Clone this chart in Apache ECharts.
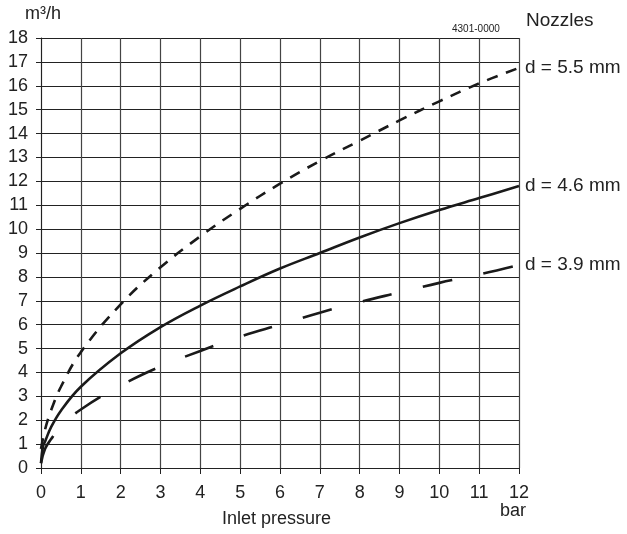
<!DOCTYPE html>
<html>
<head>
<meta charset="utf-8">
<script src="https://cdn.jsdelivr.net/npm/echarts@6/dist/echarts.min.js"></script>
<style>
  html, body { margin: 0; padding: 0; background: #fff; }
  #chart { width: 627px; height: 534px; }
</style>
</head>
<body>
<div id="chart"></div>
<script>
// values (pressure in bar, flow in m³/h)
var xTicks = [0, 1, 2, 3, 4, 5, 6, 7, 8, 9, 10, 11, 12];
var yTicks = [0, 1, 2, 3, 4, 5, 6, 7, 8, 9, 10, 11, 12, 13, 14, 15, 16, 17, 18];

var nozzle55 = [[0, 0.8], [0.1, 1.6], [0.25, 2.4], [0.5, 3.4], [1, 4.85], [2, 6.85], [3, 8.4], [4, 9.7],
  [5, 10.85], [6, 11.9], [7, 12.85], [8, 13.7], [9, 14.55], [10, 15.35], [11, 16.1], [12, 16.75]];
var nozzle46 = [[0, 0.2], [0.05, 0.9], [0.1, 1.1], [0.25, 1.7], [0.5, 2.4], [1, 3.4], [2, 4.8], [3, 5.9],
  [4, 6.8], [5, 7.6], [6, 8.35], [7, 9.0], [8, 9.65], [9, 10.25], [10, 10.8], [11, 11.3], [12, 11.8]];
var nozzle39 = [[0, 0.2], [0.1, 0.8], [0.25, 1.2], [0.5, 1.75], [1, 2.45], [2, 3.45], [3, 4.25], [4, 4.9],
  [5, 5.5], [6, 6.0], [7, 6.5], [8, 6.95], [9, 7.35], [10, 7.75], [11, 8.1], [12, 8.5]];

var FONT = "'Liberation Sans', Arial, sans-serif";
var chart = echarts.init(document.getElementById("chart"));

function curve(name, data, dash) {
  return {
    name: name,
    type: "line",
    data: data,
    smooth: 0.4,
    showSymbol: false,
    silent: true,
    lineStyle: { color: "#1a1a1a", width: 2.6, type: dash },
    endLabel: {
      show: true,
      formatter: name,
      color: "#222",
      fontFamily: FONT,
      fontSize: 19,
      distance: 6
    }
  };
}

var option = {
  animation: false,
  backgroundColor: "#fff",
  grid: { left: 41, right: 108, top: 38, bottom: 66 },
  graphic: [
    { type: "text", left: 25, top: 5, style: { text: "m³/h", font: "18px " + FONT, fill: "#222" } },
    { type: "text", left: 452, top: 24, style: { text: "4301-0000", font: "10px " + FONT, fill: "#222" } },
    { type: "text", left: 526, top: 11, style: { text: "Nozzles", font: "19px " + FONT, fill: "#222" } },
    { type: "text", left: 222, top: 510, style: { text: "Inlet pressure", font: "18px " + FONT, fill: "#222" } },
    { type: "text", left: 500, top: 502, style: { text: "bar", font: "18px " + FONT, fill: "#222" } }
  ],
  xAxis: {
    type: "value",
    min: 0,
    max: 12,
    interval: 1,
    axisLine: { show: true, lineStyle: { color: "#222", width: 1 } },
    axisTick: { show: true, length: 6, lineStyle: { color: "#222" } },
    axisLabel: { color: "#222", fontFamily: FONT, fontSize: 18, margin: 16 },
    splitLine: { show: true, lineStyle: { color: "#444", width: 1.2 } }
  },
  yAxis: {
    type: "value",
    min: 0,
    max: 18,
    interval: 1,
    axisLine: { show: true, lineStyle: { color: "#222", width: 1 } },
    axisTick: { show: true, length: 5, lineStyle: { color: "#222" } },
    axisLabel: { color: "#222", fontFamily: FONT, fontSize: 18, margin: 13 },
    splitLine: { show: true, lineStyle: { color: "#222", width: 1.2 } }
  },
  series: [
    curve("d = 5.5 mm", nozzle55, [11, 9]),
    curve("d = 4.6 mm", nozzle46, "solid"),
    curve("d = 3.9 mm", nozzle39, [30, 32])
  ]
};

chart.setOption(option);
</script>
</body>
</html>
